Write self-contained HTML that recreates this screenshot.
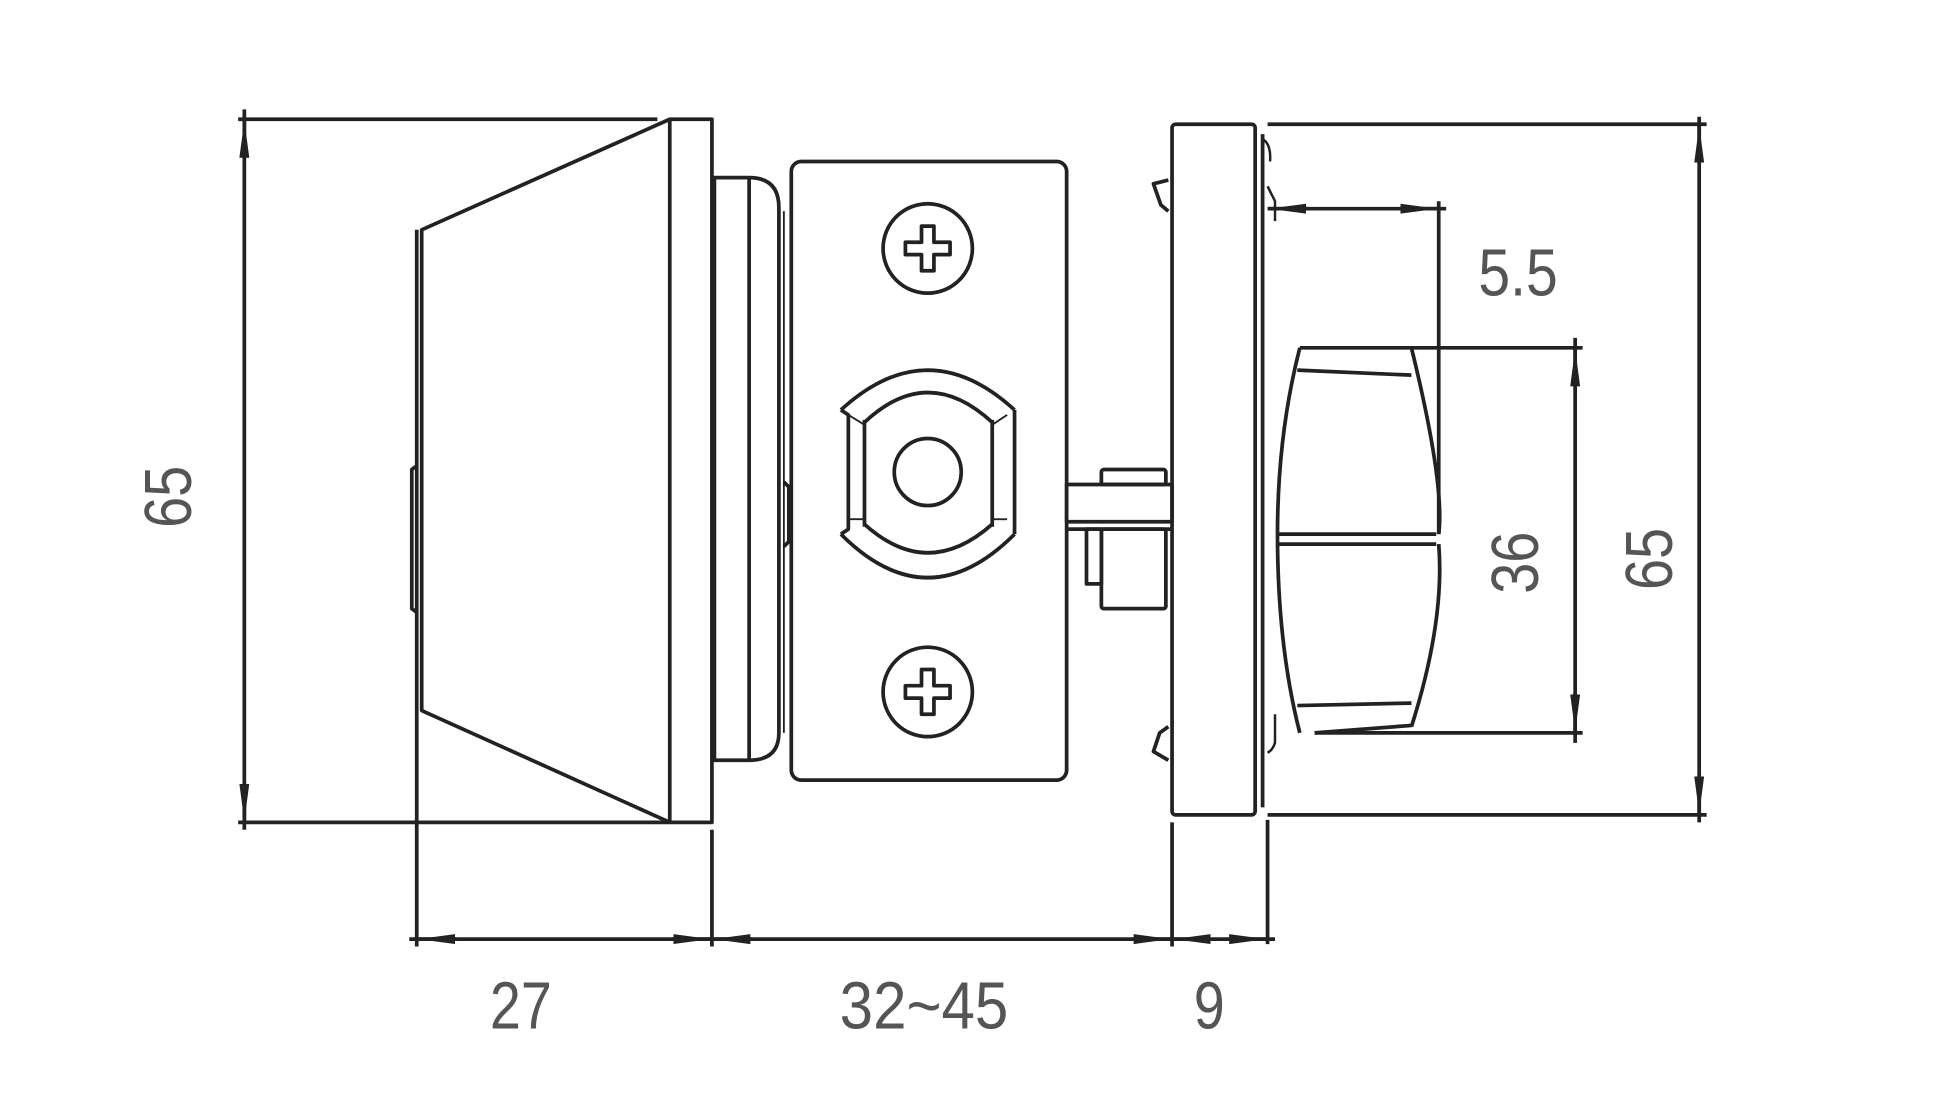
<!DOCTYPE html>
<html><head><style>html,body{margin:0;padding:0;background:#fff;overflow:hidden}svg{display:block}</style></head>
<body>
<svg width="1946" height="1113" viewBox="0 0 1569 896" preserveAspectRatio="none" xmlns="http://www.w3.org/2000/svg">
<defs>
<marker id="a" viewBox="0 0 30 10" refX="30" refY="5" markerWidth="30" markerHeight="10" markerUnits="userSpaceOnUse" orient="auto-start-reverse"><path d="M0,1 L30,5 L0,9 Z" fill="#222"/></marker>
</defs>
<g fill="none" stroke="#222" stroke-width="3" stroke-linejoin="round">
<line x1="192" y1="96" x2="530" y2="96"/><line x1="192" y1="662" x2="540" y2="662"/>
<line x1="197" y1="88" x2="197" y2="668"/>
<line x1="197" y1="128" x2="197" y2="97" marker-end="url(#a)"/>
<line x1="197" y1="630" x2="197" y2="661" marker-end="url(#a)"/>
<path d="M540,96 L340,185 L340,572 L540,662"/>
<line x1="336" y1="185" x2="336" y2="572"/>
<path d="M336,375 L332,378 L332,490 L336,493"/>
<rect x="540" y="96" width="34" height="566"/>
<path d="M576,143 L604,143 Q628,143 628,167 L628,590 Q628,612 604,612 L576,612 Z"/>
<line x1="604" y1="143" x2="604" y2="612"/>
<line x1="632" y1="170" x2="632" y2="590" stroke-width="1.5"/>
<path d="M632,388 L636,392 L636,436 L632,440"/>
<rect x="638" y="130" width="222" height="498" rx="8"/>
<circle cx="748" cy="200" r="36"/><circle cx="748" cy="557" r="36"/>
<path d="M743,182 h10 v13 h13 v10 h-13 v13 h-10 v-13 h-13 v-10 h13 Z"/>
<path d="M743,539 h10 v13 h13 v10 h-13 v13 h-10 v-13 h-13 v-10 h13 Z"/>
<path d="M678,330 Q748,266 818,330"/><path d="M678,430 Q748,500 818,430"/>
<path d="M697,340 Q748,292 800,340"/><path d="M697,422 Q748,468 800,422"/>
<path d="M678,330 L684,334 L684,426 L678,430"/><path d="M818,330 L818,430"/>
<line x1="697" y1="338" x2="697" y2="424"/><line x1="800" y1="338" x2="800" y2="424"/>
<line x1="684" y1="334" x2="697" y2="342" stroke-width="1.5"/><line x1="684" y1="418" x2="697" y2="418" stroke-width="1.5"/>
<line x1="812" y1="334" x2="800" y2="342" stroke-width="1.5"/><line x1="812" y1="418" x2="800" y2="418" stroke-width="1.5"/>
<circle cx="748" cy="380" r="27"/>
<rect x="860" y="390" width="85" height="30"/>
<rect x="888" y="378" width="52" height="12" rx="2"/>
<rect x="888" y="426" width="52" height="64" rx="2"/>
<rect x="876" y="426" width="12" height="44"/>
<line x1="860" y1="426" x2="945" y2="426"/>
<rect x="945" y="100" width="67" height="556" rx="3"/>
<line x1="1018" y1="108" x2="1018" y2="650"/>
<path d="M1018,112 Q1025,116 1024,130 M1022,150 L1028,162 L1028,178" stroke-width="2"/>
<path d="M1028,575 L1028,598 Q1026,604 1022,606" stroke-width="2"/>
<path d="M942,145 L930,148 L936,165 L942,170"/>
<path d="M942,585 L935,590 L930,605 L942,612"/>
<path d="M1048,280 L1138,280 Q1165,390 1160,430"/>
<path d="M1048,280 Q1030,350 1030,430 Q1030,520 1048,590"/>
<path d="M1138,585 Q1165,500 1160,438"/>
<line x1="1046" y1="298" x2="1138" y2="302"/>
<line x1="1046" y1="568" x2="1138" y2="566"/>
<line x1="1060" y1="590" x2="1138" y2="584"/>
<line x1="1030" y1="430" x2="1158" y2="430"/><line x1="1030" y1="438" x2="1158" y2="438"/>
<line x1="1022" y1="100" x2="1376" y2="100"/><line x1="1022" y1="656" x2="1376" y2="656"/>
<line x1="1370" y1="94" x2="1370" y2="662"/>
<line x1="1370" y1="132" x2="1370" y2="101" marker-end="url(#a)"/>
<line x1="1370" y1="624" x2="1370" y2="655" marker-end="url(#a)"/>
<line x1="1138" y1="280" x2="1276" y2="280"/><line x1="1060" y1="590" x2="1276" y2="590"/>
<line x1="1270" y1="272" x2="1270" y2="598"/>
<line x1="1270" y1="312" x2="1270" y2="281" marker-end="url(#a)"/>
<line x1="1270" y1="558" x2="1270" y2="589" marker-end="url(#a)"/>
<line x1="1022" y1="168" x2="1166" y2="168"/>
<line x1="1054" y1="168" x2="1023" y2="168" marker-end="url(#a)"/>
<line x1="1128" y1="168" x2="1159" y2="168" marker-end="url(#a)"/>
<line x1="1160" y1="162" x2="1160" y2="430"/>
<line x1="336" y1="572" x2="336" y2="762"/><line x1="574" y1="668" x2="574" y2="762"/>
<line x1="945" y1="662" x2="945" y2="762"/><line x1="1022" y1="660" x2="1022" y2="760"/>
<line x1="330" y1="756" x2="1028" y2="756"/>
<line x1="368" y1="756" x2="337" y2="756" marker-end="url(#a)"/>
<line x1="542" y1="756" x2="573" y2="756" marker-end="url(#a)"/>
<line x1="606" y1="756" x2="575" y2="756" marker-end="url(#a)"/>
<line x1="913" y1="756" x2="944" y2="756" marker-end="url(#a)"/>
<line x1="975" y1="756" x2="946" y2="756" marker-end="url(#a)"/>
<line x1="992" y1="756" x2="1021" y2="756" marker-end="url(#a)"/>
</g>
<g fill="#555" font-family="'Liberation Sans',sans-serif" font-size="54" text-anchor="middle">
<text x="420" y="828" textLength="50" lengthAdjust="spacingAndGlyphs">27</text>
<text x="745" y="828" textLength="136" lengthAdjust="spacingAndGlyphs">32~45</text>
<text x="975" y="828" textLength="25" lengthAdjust="spacingAndGlyphs">9</text>
<text x="1224" y="238" textLength="64" lengthAdjust="spacingAndGlyphs">5.5</text>
<text transform="translate(154,400) rotate(-90)" textLength="50" lengthAdjust="spacingAndGlyphs">65</text>
<text transform="translate(1240,453) rotate(-90)" textLength="50" lengthAdjust="spacingAndGlyphs">36</text>
<text transform="translate(1348,450) rotate(-90)" textLength="50" lengthAdjust="spacingAndGlyphs">65</text>
</g>
</svg>
</body></html>
